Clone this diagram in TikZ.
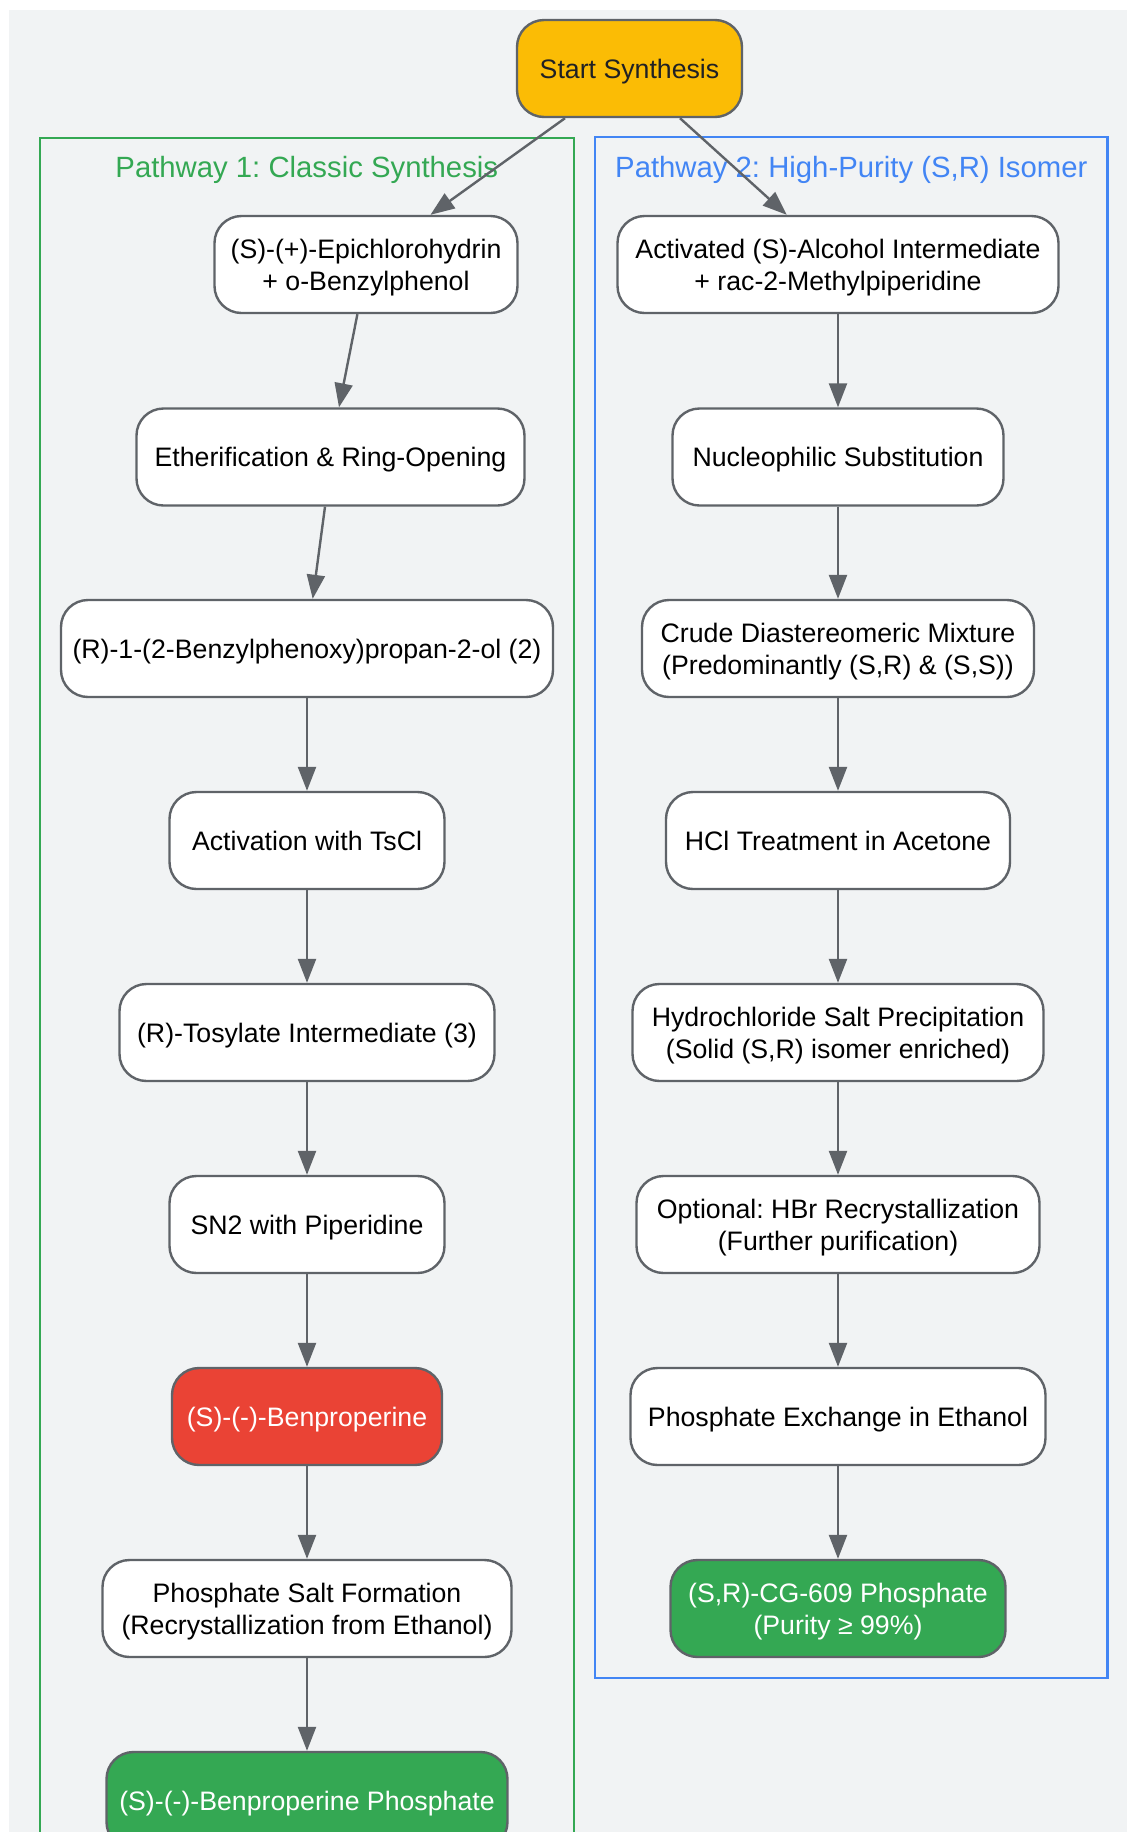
\documentclass[tikz,border=0pt]{standalone}
\usepackage{fontspec}
\setmainfont{Liberation Sans}
\usetikzlibrary{arrows.meta}
\definecolor{bgc}{HTML}{F1F3F4}
\definecolor{strokec}{HTML}{5F6368}
\definecolor{gyellow}{HTML}{FBBC05}
\definecolor{gred}{HTML}{EA4335}
\definecolor{ggreen}{HTML}{34A853}
\definecolor{gblue}{HTML}{4285F4}
\definecolor{darktext}{HTML}{202124}
\frenchspacing
\begin{document}
\begin{tikzpicture}[x=1pt,y=-1pt,
  box/.style={draw=strokec, line width=2.4pt, rounded corners=27pt, fill=white,
    minimum height=97pt, inner sep=0pt, align=center, text=black,
    font=\fontsize{26.7}{32}\selectfont\frenchspacing, text height=19.3pt, text depth=0pt},
  twoline/.style={text height=51.3pt, text depth=0pt},
  redbox/.style={box, fill=gred, text=white},
  greenbox/.style={box, fill=ggreen, text=white},
  startbox/.style={box, fill=gyellow, text=darktext},
  arr/.style={draw=strokec, line width=2.4pt, -{Triangle[length=24pt,width=18pt]}},
  clustertitle/.style={font=\fontsize{29.3}{35}\selectfont\frenchspacing, anchor=base, inner sep=0pt}]
\useasboundingbox (0,0) rectangle (1127,1832);
\fill[bgc] (8.6,10) rectangle (1127,1832);
% clusters
\draw[ggreen, line width=2pt] (39.6,138) rectangle (574,1900);
\draw[gblue, line width=2.5pt] (595,137) rectangle (1107.5,1678);
\node[clustertitle, text=ggreen] (t1) at (306.8,177.3) {Pathway 1: Classic Synthesis};
\node[clustertitle, text=gblue] (t2) at (851.3,177.3) {Pathway 2: High-Purity (S,R) Isomer};
% start
\node[startbox, minimum width=225pt] (start) at (629.5,68.5) {Start Synthesis};
% pathway 1
\node[box, twoline, minimum width=303pt] (epi) at (366,264.5) {(S)-(+)-Epichlorohydrin\\+ o-Benzylphenol};
\node[box, minimum width=388pt] (ether) at (330.5,457) {Etherification \& Ring-Opening};
\node[box, minimum width=492pt] (r1) at (307,648.5) {(R)-1-(2-Benzylphenoxy)propan-2-ol (2)};
\node[box, minimum width=275pt] (tscl) at (307,840.5) {Activation with TsCl};
\node[box, minimum width=375pt] (tos) at (307,1032.5) {(R)-Tosylate Intermediate (3)};
\node[box, minimum width=275pt] (sn2) at (307,1224.5) {SN2 with Piperidine};
\node[redbox, minimum width=270pt] (benp) at (307,1416.5) {(S)-(-)-Benproperine};
\node[box, twoline, minimum width=409pt] (psalt) at (307,1608.5) {Phosphate Salt Formation\\(Recrystallization from Ethanol)};
\node[greenbox, minimum width=401pt] (final) at (307,1800.5) {(S)-(-)-Benproperine Phosphate};
% pathway 2
\node[box, twoline, minimum width=441pt] (act) at (838,264.5) {Activated (S)-Alcohol Intermediate\\+ rac-2-Methylpiperidine};
\node[box, minimum width=331pt] (nuc) at (838,457) {Nucleophilic Substitution};
\node[box, twoline, minimum width=392pt] (crude) at (838,648.5) {Crude Diastereomeric Mixture\\(Predominantly (S,R) \& (S,S))};
\node[box, minimum width=344pt] (hcl) at (838,840.5) {HCl Treatment in Acetone};
\node[box, twoline, minimum width=411pt] (hydro) at (838,1032.5) {Hydrochloride Salt Precipitation\\(Solid (S,R) isomer enriched)};
\node[box, twoline, minimum width=403pt] (opt) at (838,1224.5) {Optional: HBr Recrystallization\\(Further purification)};
\node[box, minimum width=415pt] (pex) at (838,1416.5) {Phosphate Exchange in Ethanol};
\node[greenbox, twoline, minimum width=335pt] (cg) at (838,1608.5) {(S,R)-CG-609 Phosphate\\(Purity ≥ 99\%)};
% connectors
\draw[arr] ([xshift=-64.5pt]start.south) -- ([xshift=64.5pt]epi.north);
\draw[arr] ([xshift=50.5pt]start.south) -- ([xshift=-51.3pt]act.north);
\draw[arr] ([xshift=-8.6pt]epi.south) -- ([xshift=8.5pt]ether.north);
\draw[arr] ([xshift=-5.5pt]ether.south) -- ([xshift=5.7pt]r1.north);
\draw[arr] (r1.south) -- (tscl.north);
\draw[arr] (tscl.south) -- (tos.north);
\draw[arr] (tos.south) -- (sn2.north);
\draw[arr] (sn2.south) -- (benp.north);
\draw[arr] (benp.south) -- (psalt.north);
\draw[arr] (psalt.south) -- (final.north);
\draw[arr] (act.south) -- (nuc.north);
\draw[arr] (nuc.south) -- (crude.north);
\draw[arr] (crude.south) -- (hcl.north);
\draw[arr] (hcl.south) -- (hydro.north);
\draw[arr] (hydro.south) -- (opt.north);
\draw[arr] (opt.south) -- (pex.north);
\draw[arr] (pex.south) -- (cg.north);
\end{tikzpicture}
\end{document}
